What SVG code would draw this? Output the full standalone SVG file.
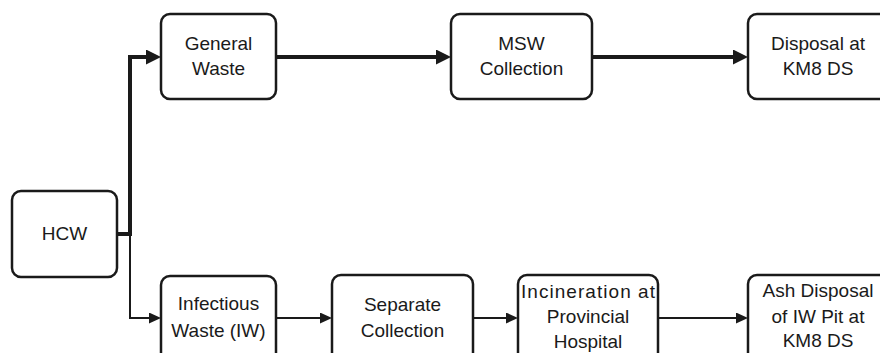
<svg xmlns="http://www.w3.org/2000/svg" width="880" height="353" viewBox="0 0 880 353">
  <defs>
    <style>
      .box { fill: #ffffff; stroke: #1a1a1a; stroke-width: 2.5; }
      .lbl { font-family: "Liberation Sans", Arial, sans-serif; font-size: 19px; fill: #1a1a1a; text-anchor: middle; }
      .thick { fill: none; stroke: #1a1a1a; stroke-width: 4; }
      .thin { fill: none; stroke: #1a1a1a; stroke-width: 2; }
    </style>
    <marker id="headBig" markerUnits="userSpaceOnUse" markerWidth="15" markerHeight="15" refX="0" refY="7.5" orient="auto">
      <path d="M0,0 L15,7.5 L0,15 z" fill="#1a1a1a"/>
    </marker>
    <marker id="headSmall" markerUnits="userSpaceOnUse" markerWidth="12" markerHeight="11" refX="0" refY="5.5" orient="auto">
      <path d="M0,0 L12,5.5 L0,11 z" fill="#1a1a1a"/>
    </marker>
  </defs>
  <rect width="880" height="353" fill="#ffffff"/>

  <g id="connectors">
    <!-- general waste stream (heavy) -->
    <path class="thick" d="M117,234 H130 V57 H146" marker-end="url(#headBig)"/>
    <path class="thick" d="M276,57 H436" marker-end="url(#headBig)"/>
    <path class="thick" d="M592,57 H733" marker-end="url(#headBig)"/>
    <!-- infectious waste stream (light) -->
    <path class="thin" d="M130,234 V318 H149" marker-end="url(#headSmall)"/>
    <path class="thin" d="M276,318 H320" marker-end="url(#headSmall)"/>
    <path class="thin" d="M473,318 H506" marker-end="url(#headSmall)"/>
    <path class="thin" d="M658,318 H736" marker-end="url(#headSmall)"/>
  </g>

  <g id="hcw">
    <rect class="box" x="12" y="191" width="105" height="86" rx="9"/>
    <text class="lbl" x="64.5" y="240">HCW</text>
  </g>

  <g id="general-waste">
    <rect class="box" x="161" y="14" width="115" height="85" rx="9"/>
    <text class="lbl" x="218.5" y="50">General</text>
    <text class="lbl" x="218.5" y="75">Waste</text>
  </g>

  <g id="msw-collection">
    <rect class="box" x="451" y="14" width="141" height="85" rx="9"/>
    <text class="lbl" x="521.5" y="50">MSW</text>
    <text class="lbl" x="521.5" y="75">Collection</text>
  </g>

  <g id="disposal-km8">
    <rect class="box" x="748" y="14" width="140" height="85" rx="9"/>
    <text class="lbl" x="818" y="50">Disposal at</text>
    <text class="lbl" x="818" y="75">KM8 DS</text>
  </g>

  <g id="infectious-waste">
    <rect class="box" x="161" y="276" width="115" height="90" rx="9"/>
    <text class="lbl" x="218.5" y="310">Infectious</text>
    <text class="lbl" x="218.5" y="337">Waste (IW)</text>
  </g>

  <g id="separate-collection">
    <rect class="box" x="332" y="275" width="141" height="90" rx="9"/>
    <text class="lbl" x="402.5" y="311">Separate</text>
    <text class="lbl" x="402.5" y="337">Collection</text>
  </g>

  <g id="incineration">
    <rect class="box" x="518" y="275" width="140" height="90" rx="9"/>
    <text class="lbl" x="588" y="298" textLength="134" lengthAdjust="spacing">Incineration at</text>
    <text class="lbl" x="588" y="323">Provincial</text>
    <text class="lbl" x="588" y="348">Hospital</text>
  </g>

  <g id="ash-disposal">
    <rect class="box" x="748" y="275" width="140" height="90" rx="9"/>
    <text class="lbl" x="818" y="297">Ash Disposal</text>
    <text class="lbl" x="818" y="323">of IW Pit at</text>
    <text class="lbl" x="818" y="347">KM8 DS</text>
  </g>
</svg>
